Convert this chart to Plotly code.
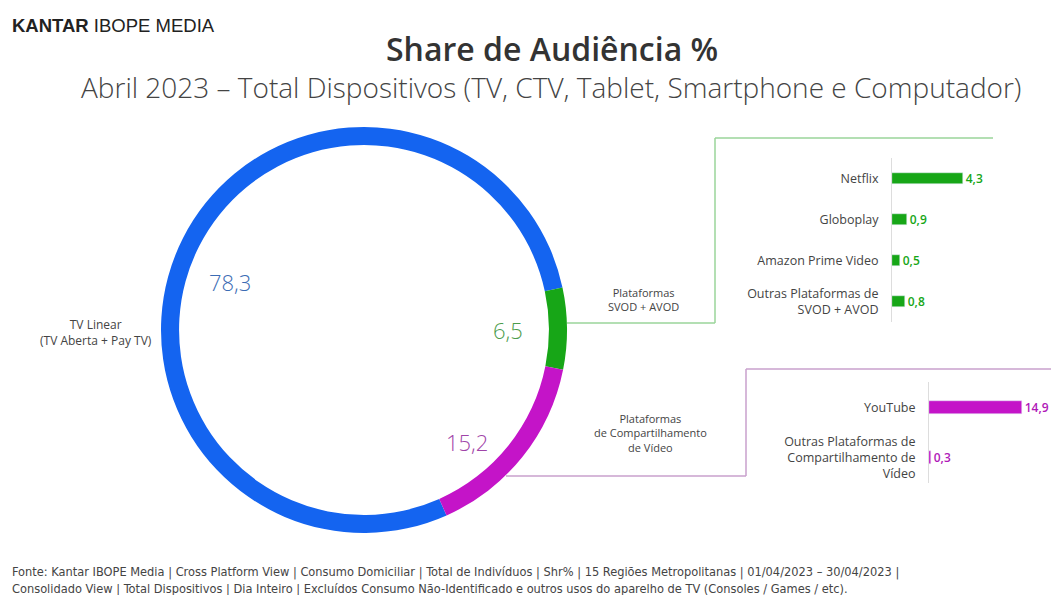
import plotly.graph_objects as go

# page is shown with the browser's default 8px body margin
OFF = 8
W, H = 1059 - OFF, 595 - OFF

# ---------------- data ----------------
donut_labels = ["TV Linear", "Plataformas SVOD + AVOD", "Plataformas de Compartilhamento de Vídeo"]
donut_values = [78.3, 6.5, 15.2]
donut_colors = ["#1464f0", "#17a617", "#c414c8"]
donut_text_colors = ["#3c6cb4", "#4c9c4c", "#a044a8"]

svod_categories = ["Netflix", "Globoplay", "Amazon Prime Video", "Outras Plataformas de<br>SVOD + AVOD"]
svod_values = [4.3, 0.9, 0.5, 0.8]

video_categories = ["YouTube", "Outras Plataformas de<br>Compartilhamento de<br>Vídeo"]
video_values = [14.9, 0.3]

FONT = "'Open Sans', Lato, sans-serif"
ARIAL = "'Liberation Sans', Arial, sans-serif"
NARROW = "'Liberation Sans Narrow', 'DejaVu Sans Condensed', sans-serif"


def px(x):
    return (x - OFF) / W


def py(y):
    return 1 - (y - OFF) / H


def fmt(v):
    return f"{v:.1f}".replace(".", ",")


fig = go.Figure()

fig.add_trace(go.Pie(
    labels=donut_labels,
    values=donut_values,
    marker=dict(colors=donut_colors, line=dict(width=0)),
    hole=0.911,
    sort=False,
    direction="clockwise",
    rotation=156,
    textinfo="none",
    hoverinfo="label+value",
    showlegend=False,
    domain=dict(x=[px(161), px(567)], y=[py(533), py(127)]),
))

fig.add_trace(go.Bar(
    y=svod_categories,
    x=svod_values,
    orientation="h",
    marker=dict(color=donut_colors[1]),
    width=0.29,
    texttemplate="%{x:.1f}",
    textposition="outside",
    constraintext="none",
    textfont=dict(color="#17a617", size=12, family=FONT, weight=600),
    cliponaxis=False,
    xaxis="x", yaxis="y",
    showlegend=False,
))

fig.add_trace(go.Bar(
    y=video_categories,
    x=video_values,
    orientation="h",
    marker=dict(color=donut_colors[2]),
    width=0.26,
    texttemplate="%{x:.1f}",
    textposition="outside",
    constraintext="none",
    textfont=dict(color="#b018b8", size=12, family=FONT, weight=600),
    cliponaxis=False,
    xaxis="x2", yaxis="y2",
    showlegend=False,
))

tick_font = dict(size=12.5, color="#444", family=FONT)

fig.update_layout(
    width=W, height=H,
    margin=dict(l=0, r=0, t=0, b=0),
    paper_bgcolor="white", plot_bgcolor="rgba(0,0,0,0)",
    separators=",.",
    font=dict(family=FONT, color="#333"),
    bargap=0,
    xaxis=dict(domain=[px(892), px(1057)], range=[0, 10], visible=False, anchor="y"),
    yaxis=dict(domain=[py(322), py(158)], type="category", categoryorder="array",
               categoryarray=svod_categories, autorange="reversed",
               showline=True, linecolor="#dddddd", linewidth=1, showgrid=False,
               zeroline=False, ticks="", tickfont=tick_font, ticklabelstandoff=10,
               anchor="x"),
    xaxis2=dict(domain=[px(929), px(1054)], range=[0, 20], visible=False, anchor="y2"),
    yaxis2=dict(domain=[py(483), py(382)], type="category", categoryorder="array",
                categoryarray=video_categories, autorange="reversed",
                showline=True, linecolor="#dddddd", linewidth=1, showgrid=False,
                zeroline=False, ticks="", tickfont=tick_font, ticklabelstandoff=10,
                anchor="x2"),
)

# connector lines
green_line = "#9ad49a"
mag_line = "#c9a0cc"
segs = [
    ((567, 323), (715, 323), green_line),
    ((715, 323), (715, 138), green_line),
    ((715, 138), (993, 138), green_line),
    ((506, 476), (746, 476), mag_line),
    ((746, 476), (746, 369), mag_line),
    ((746, 369), (1059, 369), mag_line),
]
for (x0, y0), (x1, y1), c in segs:
    fig.add_shape(type="line", xref="paper", yref="paper",
                  x0=px(x0), y0=py(y0), x1=px(x1), y1=py(y1),
                  line=dict(color=c, width=1.5))

ann = []
# header
ann.append(dict(text="<b>KANTAR</b> IBOPE MEDIA", x=px(10), y=py(25), xanchor="left", yanchor="middle",
                font=dict(size=18.5, color="#222", family=ARIAL)))
ann.append(dict(text="Share de Audiência %", x=px(552), y=py(48), xanchor="center", yanchor="middle",
                font=dict(size=32, color="#333", family=FONT, weight=600)))
ann.append(dict(text="Abril 2023 – Total Dispositivos (TV, CTV, Tablet, Smartphone e Computador)",
                x=px(551), y=py(87), xanchor="center", yanchor="middle",
                font=dict(size=28, color="#444", family=FONT, weight=300)))

# donut values
val_pos = [(230, 282), (508, 330), (467, 442)]
for v, c, (x, y) in zip(donut_values, donut_text_colors, val_pos):
    ann.append(dict(text=fmt(v), x=px(x), y=py(y), xanchor="center", yanchor="middle",
                    font=dict(size=22, color=c, family=FONT, weight=300)))

# group labels
ann.append(dict(text="TV Linear<br>(TV Aberta + Pay TV)", x=px(96), y=py(332), xanchor="center", yanchor="middle",
                font=dict(size=12, color="#444", family=FONT)))
ann.append(dict(text="Plataformas<br>SVOD + AVOD", x=px(643), y=py(300), xanchor="center", yanchor="middle",
                font=dict(size=11, color="#444", family=FONT)))
ann.append(dict(text="Plataformas<br>de Compartilhamento<br>de Vídeo", x=px(650), y=py(433), xanchor="center",
                yanchor="middle", font=dict(size=11, color="#444", family=FONT)))

# footer
footer = ("Fonte: Kantar IBOPE Media | Cross Platform View | Consumo Domiciliar | Total de Indivíduos | Shr% | "
          "15 Regiões Metropolitanas | 01/04/2023 – 30/04/2023 |<br>"
          "Consolidado View | Total Dispositivos | Dia Inteiro | Excluídos Consumo Não-Identificado e outros usos "
          "do aparelho de TV (Consoles / Games / etc).")
ann.append(dict(text=footer, x=px(10), y=py(580), xanchor="left", yanchor="middle", align="left",
                font=dict(size=12.7, color="#444", family=NARROW)))

for a in ann:
    a.update(xref="paper", yref="paper", showarrow=False)
fig.update_layout(annotations=ann)

fig.write_html("out.html")
